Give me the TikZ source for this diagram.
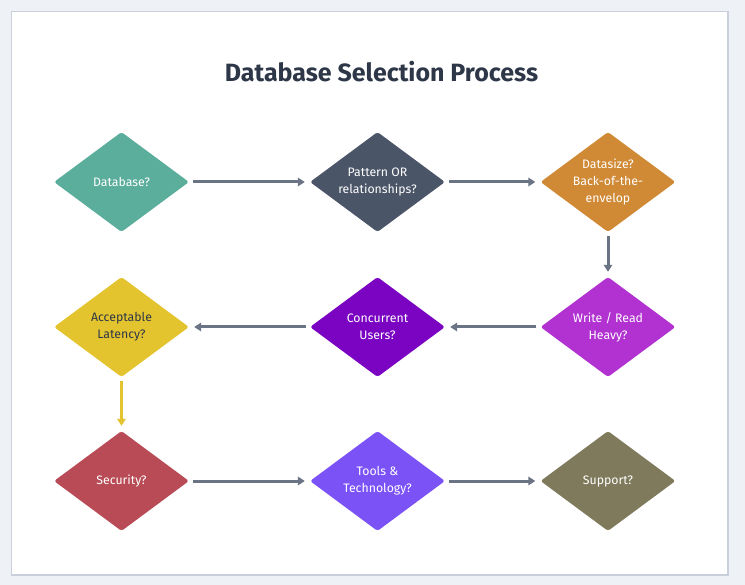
\documentclass[tikz,border=0pt]{standalone}
\usepackage{fontspec}
\setmainfont{Fira Sans}
\usetikzlibrary{shapes.geometric,arrows.meta}
\definecolor{bgout}{HTML}{EEF1F5}
\definecolor{panelborder}{HTML}{C9D0DB}
\definecolor{titlecol}{HTML}{2D3748}
\definecolor{arrowcol}{HTML}{6B7485}
\definecolor{cteal}{HTML}{5BAD9C}
\definecolor{cslate}{HTML}{4A5568}
\definecolor{corange}{HTML}{D08935}
\definecolor{cmagenta}{HTML}{B131D1}
\definecolor{cpurple}{HTML}{7A04C2}
\definecolor{cyellow}{HTML}{E4C42E}
\definecolor{cred}{HTML}{B84B55}
\definecolor{cviolet}{HTML}{7B52F5}
\definecolor{colive}{HTML}{7F7A5C}
\tikzset{
  decision/.style={diamond, draw=none, fill=#1, minimum width=135pt, minimum height=100pt,
    inner sep=0pt, aspect=1.35, rounded corners=2.5pt, text=white, align=center,
    font=\fontsize{12.3}{17}\selectfont},
  flow/.style={draw=arrowcol, line width=3pt, -{Triangle[length=7pt,width=8.5pt]},
    shorten <=4pt, shorten >=5pt},
  flowy/.style={flow, draw=cyellow}
}
\begin{document}
\begin{tikzpicture}[x=1pt,y=-1pt]
\useasboundingbox (0,0) rectangle (745,585);
\fill[bgout] (0,0) rectangle (745,585);
\draw[panelborder, fill=white, line width=1.5pt] (11.5,11.5) rectangle (728,575);
\node[text=titlecol, font=\fontsize{25}{29}\bfseries\selectfont] (title) at (381.5,72) {Database Selection Process};

\node[decision=cteal] (d1) at (121.5,182) {Database?};
\node[decision=cslate] (d2) at (377.5,182) {Pattern OR\\relationships?};
\node[decision=corange] (d3) at (608,182) {Datasize?\\Back-of-the-\\envelop};
\node[decision=cmagenta] (d4) at (608,327) {Write / Read\\Heavy?};
\node[decision=cpurple] (d5) at (377.5,327) {Concurrent\\Users?};
\node[decision=cyellow, text=titlecol] (d6) at (121.5,327) {Acceptable\\Latency?};
\node[decision=cred] (d7) at (121.5,481) {Security?};
\node[decision=cviolet] (d8) at (377.5,481) {Tools \&\\Technology?};
\node[decision=colive] (d9) at (608,481) {Support?};

\draw[flow] (d1) -- (d2);
\draw[flow] (d2) -- (d3);
\draw[flow] (d3) -- (d4);
\draw[flow] (d4) -- (d5);
\draw[flow] (d5) -- (d6);
\draw[flowy] (d6) -- (d7);
\draw[flow] (d7) -- (d8);
\draw[flow] (d8) -- (d9);
\end{tikzpicture}
\end{document}
